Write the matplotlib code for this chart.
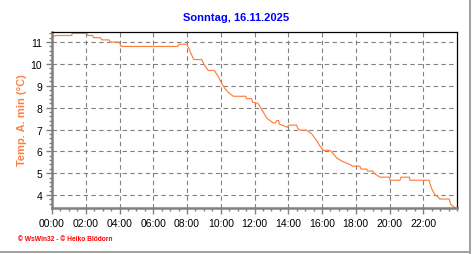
import matplotlib
matplotlib.use("Agg")
import matplotlib.pyplot as plt
from matplotlib.lines import Line2D
from matplotlib.ticker import MultipleLocator

# Minimum outside temperature (hours since midnight, degC)
hours = [0.0, 0.22, 1.17, 1.2, 2.06, 2.13, 2.41, 2.46, 2.87, 2.95, 3.38, 3.44,
         3.99, 4.09, 7.45, 7.53, 7.98, 8.12, 8.25, 8.4, 8.87, 9.03, 9.26, 9.62,
         9.85, 10.06, 10.25, 10.45, 10.74, 11.48, 11.53, 11.83, 11.88, 12.2,
         12.33, 12.52, 12.72, 12.92, 13.11, 13.24, 13.32, 13.42, 13.47, 13.71,
         13.94, 14.01, 14.5, 14.55, 14.7, 15.09, 15.39, 15.69, 15.88, 16.08,
         16.47, 16.67, 16.87, 17.19, 17.66, 17.82, 18.25, 18.31, 18.65, 18.7,
         19.02, 19.08, 19.44, 19.99, 20.03, 20.62, 20.68, 21.17, 21.21, 22.34,
         22.5, 22.7, 22.89, 22.99, 23.54, 23.63, 23.79, 23.94]
temp_min = [11.21, 11.3, 11.3, 11.4, 11.4, 11.3, 11.3, 11.2, 11.2, 11.1, 11.1, 11.0,
            11.0, 10.8, 10.8, 10.9, 10.9, 10.7, 10.45, 10.2, 10.2, 9.95, 9.7, 9.7,
            9.43, 9.1, 8.87, 8.7, 8.52, 8.52, 8.41, 8.41, 8.25, 8.2,
            8.05, 7.8, 7.52, 7.41, 7.3, 7.3, 7.41, 7.41, 7.25, 7.18,
            7.1, 7.2, 7.2, 7.06, 6.97, 6.97, 6.8, 6.49, 6.24, 6.05,
            6.05, 5.89, 5.7, 5.55, 5.4, 5.32, 5.32, 5.19, 5.19, 5.1,
            5.1, 5.0, 4.82, 4.82, 4.68, 4.68, 4.82, 4.82, 4.68, 4.68,
            4.29, 4.01, 3.91, 3.82, 3.82, 3.57, 3.48, 3.39]

xtick_hours = list(range(0, 24, 2))
xtick_labels = [f"{h:02d}:00" for h in xtick_hours]
ytick_values = [4, 5, 6, 7, 8, 9, 10, 11]

title = "Sonntag, 16.11.2025"
ylabel = "Temp. A. min (°C)"
footer = "© WsWin32 - © Heiko Blödorn"

orange = "#ff7f3f"
grey = "#808080"

plt.rcParams["font.family"] = ["Liberation Sans", "DejaVu Sans"]

fig = plt.figure(figsize=(4.72, 2.55), dpi=100)
ax = fig.add_axes([52 / 472, 46 / 255, 405 / 472, 176 / 255])

ax.plot(hours, temp_min, color=orange, linewidth=0.85)

ax.set_xlim(0, 24)
ax.set_ylim(3.41, 11.46)
ax.set_xticks(xtick_hours)
ax.set_xticklabels(xtick_labels)
ax.set_yticks(ytick_values)
ax.xaxis.set_minor_locator(MultipleLocator(0.5))
ax.yaxis.set_minor_locator(MultipleLocator(0.2))

ax.grid(True, which="major", color=grey, linestyle=(0, (4, 3)), linewidth=0.8)
ax.tick_params(which="major", length=4, width=1, color=grey, labelsize=7.5, pad=3)
ax.tick_params(which="minor", length=2.5, width=1, color=grey)

for side in ("left", "bottom"):
    ax.spines[side].set_color(grey)
    ax.spines[side].set_linewidth(1.8)
for side in ("top", "right"):
    ax.spines[side].set_color("black")
    ax.spines[side].set_linewidth(0.9)

fig.text(0.5, 1 - 18 / 255, title, color="#0000ff", fontsize=8, fontweight="bold",
         ha="center", va="center")
fig.text(22.5 / 472, 1 - 120 / 255, ylabel, color=orange, fontsize=8, fontweight="bold",
         rotation=90, ha="center", va="center")
fig.text(18 / 472, 1 - 240 / 255, footer, color="#ff0000", fontsize=4.8, fontweight="bold",
         ha="left", va="center")

# light frame on the right and bottom edge
fig.add_artist(Line2D([470 / 472, 470 / 472], [0, 1], color="#a0a0a0", linewidth=1.4,
                      transform=fig.transFigure))
fig.add_artist(Line2D([0, 470 / 472], [2 / 255, 2 / 255], color="#a0a0a0", linewidth=1.4,
                      transform=fig.transFigure))

fig.savefig("out.png", dpi=100)
